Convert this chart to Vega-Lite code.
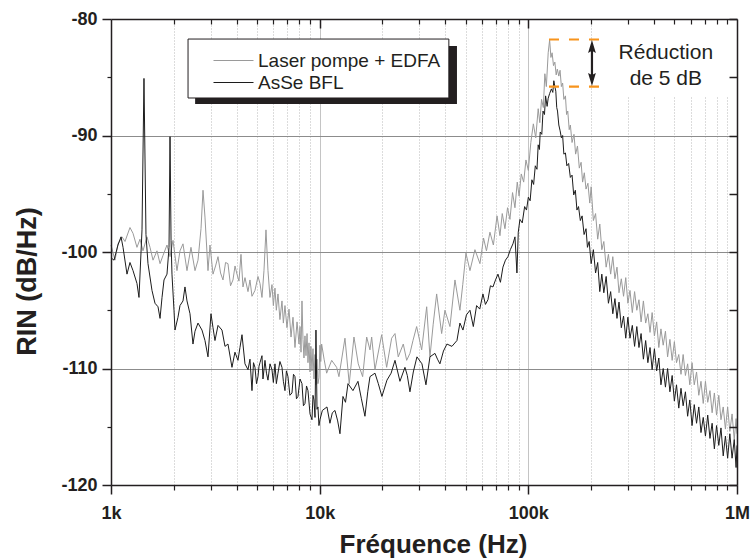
{
"$schema": "https://vega.github.io/schema/vega-lite/v6.json",
"width": 626,
"height": 466,
"autosize": {"type": "none"},
"padding": {"left": 111, "top": 19, "right": 15, "bottom": 73},
"background": "white",
"config": {"view": {"stroke": null}, "font": "Liberation Sans"},
"resolve": {"axis": {"x": "independent", "y": "independent"}},
"datasets": {
"laser": [
{"f":1000,"v":-99.4},{"f":1045,"v":-100.7},{"f":1080,"v":-99.3},{"f":1129,"v":-98.7},{"f":1167,"v":-99.1},{"f":1233,"v":-97.9},{"f":1275,"v":-98.4},{"f":1332,"v":-99.6},{"f":1377,"v":-98.9},{"f":1423,"v":-99.9},{"f":1487,"v":-98.7},{"f":1538,"v":-99.6},{"f":1590,"v":-100.7},{"f":1661,"v":-99.9},{"f":1718,"v":-101},{"f":1775,"v":-100.3},{"f":1855,"v":-99.4},{"f":1918,"v":-100.4},{"f":1982,"v":-99},{"f":2071,"v":-101.6},{"f":2141,"v":-99.9},{"f":2213,"v":-99.3},{"f":2313,"v":-101.6},{"f":2417,"v":-99.6},{"f":2527,"v":-101.6},{"f":2612,"v":-100.7},{"f":2700,"v":-98},{"f":2760,"v":-94.7},{"f":2821,"v":-97},{"f":2916,"v":-101.6},{"f":2981,"v":-99.4},{"f":3082,"v":-101.9},{"f":3170,"v":-101.2},{"f":3257,"v":-100.4},{"f":3350,"v":-101.8},{"f":3441,"v":-102.4},{"f":3540,"v":-100.9},{"f":3636,"v":-101},{"f":3740,"v":-102.9},{"f":3842,"v":-102.4},{"f":3930,"v":-101.2},{"f":4015,"v":-101.9},{"f":4105,"v":-102.5},{"f":4197,"v":-100.2},{"f":4290,"v":-103},{"f":4386,"v":-102.2},{"f":4534,"v":-103.4},{"f":4635,"v":-102.4},{"f":4738,"v":-103.8},{"f":4898,"v":-103.3},{"f":5063,"v":-102.1},{"f":5176,"v":-102.7},{"f":5291,"v":-103.9},{"f":5409,"v":-101.6},{"f":5530,"v":-98.1},{"f":5653,"v":-101.6},{"f":5780,"v":-103.9},{"f":5908,"v":-102.8},{"f":6000,"v":-104.6},{"f":6107,"v":-103.1},{"f":6200,"v":-105},{"f":6313,"v":-103.6},{"f":6450,"v":-105.8},{"f":6598,"v":-104.2},{"f":6700,"v":-106.1},{"f":6820,"v":-104.6},{"f":6970,"v":-106.5},{"f":7130,"v":-104.9},{"f":7290,"v":-107.3},{"f":7450,"v":-105.6},{"f":7615,"v":-108.2},{"f":7790,"v":-106},{"f":7960,"v":-107.9},{"f":8050,"v":-106.4},{"f":8140,"v":-108.6},{"f":8227,"v":-104.2},{"f":8320,"v":-107.5},{"f":8410,"v":-109.1},{"f":8504,"v":-107.2},{"f":8600,"v":-108.9},{"f":8700,"v":-107},{"f":8790,"v":-109.5},{"f":8890,"v":-107.8},{"f":8990,"v":-110.3},{"f":9080,"v":-108.1},{"f":9186,"v":-110.2},{"f":9290,"v":-108.3},{"f":9391,"v":-110.9},{"f":9500,"v":-108.8},{"f":9600,"v":-111.4},{"f":9710,"v":-109.2},{"f":9814,"v":-111.3},{"f":9920,"v":-110.8},{"f":10030,"v":-108},{"f":10120,"v":-109.4},{"f":10220,"v":-107.9},{"f":10500,"v":-109.2},{"f":10800,"v":-110.4},{"f":11420,"v":-109.3},{"f":12060,"v":-109.9},{"f":12370,"v":-110.7},{"f":13220,"v":-107.4},{"f":13860,"v":-111.3},{"f":14600,"v":-107.3},{"f":15310,"v":-109.6},{"f":16070,"v":-110.7},{"f":16800,"v":-107.3},{"f":17420,"v":-108.4},{"f":17750,"v":-107.3},{"f":18410,"v":-110.1},{"f":19820,"v":-107.1},{"f":20940,"v":-109.9},{"f":22130,"v":-107.4},{"f":22960,"v":-107},{"f":23800,"v":-109},{"f":25160,"v":-107.9},{"f":26120,"v":-109.3},{"f":27080,"v":-108.7},{"f":28000,"v":-107.6},{"f":29160,"v":-106.4},{"f":30820,"v":-108.4},{"f":32570,"v":-104.7},{"f":33770,"v":-109},{"f":35000,"v":-106.2},{"f":36360,"v":-103.6},{"f":38420,"v":-107},{"f":39840,"v":-105},{"f":42110,"v":-106.4},{"f":44500,"v":-102.4},{"f":47010,"v":-105},{"f":48500,"v":-102.8},{"f":50240,"v":-100.1},{"f":52510,"v":-101.6},{"f":55480,"v":-99.8},{"f":58630,"v":-101},{"f":61000,"v":-98.8},{"f":63000,"v":-99.9},{"f":65470,"v":-98.3},{"f":68000,"v":-99.4},{"f":70800,"v":-96.9},{"f":73110,"v":-98.6},{"f":75000,"v":-96.7},{"f":77250,"v":-98},{"f":79500,"v":-96.2},{"f":81640,"v":-97.2},{"f":84000,"v":-94.9},{"f":86270,"v":-96.2},{"f":88500,"v":-94},{"f":90300,"v":-95.2},{"f":92500,"v":-93.3},{"f":95000,"v":-94},{"f":97400,"v":-92.1},{"f":100000,"v":-93},{"f":102800,"v":-90.6},{"f":105700,"v":-89},{"f":108500,"v":-90.2},{"f":111500,"v":-87.7},{"f":113500,"v":-88.9},{"f":115700,"v":-86.9},{"f":118000,"v":-87.6},{"f":120000,"v":-84.7},{"f":122000,"v":-85.8},{"f":124500,"v":-82.9},{"f":126500,"v":-81.8},{"f":128300,"v":-83.3},{"f":130000,"v":-82.9},{"f":132000,"v":-84},{"f":134000,"v":-83.7},{"f":136000,"v":-84.8},{"f":137700,"v":-84.3},{"f":140000,"v":-84.9},{"f":141900,"v":-84.4},{"f":144000,"v":-85.8},{"f":146000,"v":-85.5},{"f":148000,"v":-86.9},{"f":150600,"v":-86.6},{"f":152500,"v":-88.2},{"f":154500,"v":-87.9},{"f":157000,"v":-89.5},{"f":159000,"v":-89.1},{"f":162000,"v":-90.6},{"f":165500,"v":-89.9},{"f":168500,"v":-91.6},{"f":172000,"v":-90.9},{"f":175500,"v":-92.8},{"f":179000,"v":-92.3},{"f":182000,"v":-94},{"f":185500,"v":-93.2},{"f":189000,"v":-94.6},{"f":193000,"v":-94.1},{"f":197000,"v":-95.8},
{"f":200000,"v":-94.4},{"f":205000,"v":-97.3},{"f":210000,"v":-96.7},{"f":215000,"v":-98.9},{"f":220000,"v":-97.6},{"f":225000,"v":-99.8},{"f":230000,"v":-99.1},{"f":236000,"v":-101.3},{"f":242000,"v":-100.2},{"f":248000,"v":-101.9},{"f":254000,"v":-100.4},{"f":260000,"v":-102.3},{"f":266000,"v":-101.3},{"f":272000,"v":-103.5},{"f":279000,"v":-102.3},{"f":286000,"v":-103.8},{"f":293000,"v":-102.2},{"f":300000,"v":-104.4},{"f":307000,"v":-103.3},{"f":315000,"v":-105.2},{"f":323000,"v":-103.4},{"f":331000,"v":-105},{"f":339000,"v":-104.1},{"f":347000,"v":-106},{"f":356000,"v":-104.2},{"f":365000,"v":-106.1},{"f":374000,"v":-105.3},{"f":383000,"v":-106.9},{"f":392000,"v":-105.2},{"f":402000,"v":-107.2},{"f":412000,"v":-106},{"f":422000,"v":-108.2},{"f":432000,"v":-106.6},{"f":443000,"v":-108},{"f":454000,"v":-106.8},{"f":465000,"v":-109},{"f":477000,"v":-107.5},{"f":489000,"v":-109.3},{"f":501000,"v":-107.7},{"f":513000,"v":-109.5},{"f":526000,"v":-108.8},{"f":539000,"v":-110.5},{"f":552000,"v":-108.8},{"f":566000,"v":-110.6},{"f":580000,"v":-109.6},{"f":594000,"v":-111.4},{"f":609000,"v":-109.5},{"f":624000,"v":-111.4},{"f":640000,"v":-110.3},{"f":656000,"v":-112.3},{"f":672000,"v":-111.1},{"f":689000,"v":-113},{"f":706000,"v":-111.1},{"f":724000,"v":-112.9},{"f":742000,"v":-111.9},{"f":760000,"v":-113.8},{"f":779000,"v":-112.1},{"f":798000,"v":-114},{"f":818000,"v":-112.3},{"f":838000,"v":-114.4},{"f":859000,"v":-113.3},{"f":880000,"v":-115.2},{"f":902000,"v":-113.3},{"f":924000,"v":-115.4},{"f":947000,"v":-113.9},{"f":970000,"v":-116.1},{"f":990000,"v":-114.3},{"f":1000000,"v":-115.6}
],
"asse": [
{"f":1000,"v":-100.5},{"f":1034,"v":-100.7},{"f":1080,"v":-99.4},{"f":1117,"v":-98.7},{"f":1142,"v":-99.6},{"f":1193,"v":-101.9},{"f":1233,"v":-100.9},{"f":1275,"v":-101.6},{"f":1332,"v":-102.7},{"f":1362,"v":-103.9},{"f":1408,"v":-98.1},{"f":1439,"v":-85.1},{"f":1471,"v":-98.5},{"f":1504,"v":-101},{"f":1572,"v":-103.3},{"f":1625,"v":-104.4},{"f":1680,"v":-104.7},{"f":1718,"v":-105.7},{"f":1756,"v":-103.9},{"f":1795,"v":-102.4},{"f":1855,"v":-101.9},{"f":1897,"v":-99.6},{"f":1918,"v":-90.1},{"f":1940,"v":-99},{"f":1960,"v":-101.9},{"f":2004,"v":-105},{"f":2026,"v":-106.7},{"f":2094,"v":-105.6},{"f":2141,"v":-104.6},{"f":2213,"v":-104.2},{"f":2262,"v":-103},{"f":2313,"v":-104.2},{"f":2391,"v":-105.3},{"f":2471,"v":-107.9},{"f":2527,"v":-106.8},{"f":2612,"v":-106.1},{"f":2729,"v":-106.7},{"f":2821,"v":-107.6},{"f":2916,"v":-109},{"f":3014,"v":-105.3},{"f":3082,"v":-106.5},{"f":3150,"v":-107.6},{"f":3257,"v":-106.3},{"f":3403,"v":-106.7},{"f":3518,"v":-108.1},{"f":3636,"v":-107.9},{"f":3800,"v":-109.9},{"f":3927,"v":-108.6},{"f":4059,"v":-109.3},{"f":4150,"v":-108.2},{"f":4244,"v":-107.1},{"f":4386,"v":-109.6},{"f":4534,"v":-110.1},{"f":4635,"v":-109.2},{"f":4738,"v":-111.9},{"f":4818,"v":-109.5},{"f":4898,"v":-109.9},{"f":4980,"v":-111.3},{"f":5063,"v":-110.7},{"f":5120,"v":-109.8},{"f":5176,"v":-109.5},{"f":5291,"v":-108.9},{"f":5350,"v":-110.9},{"f":5469,"v":-109.3},{"f":5560,"v":-110.4},{"f":5653,"v":-111},{"f":5780,"v":-109.6},{"f":5908,"v":-110.1},{"f":6000,"v":-111.2},{"f":6107,"v":-109.6},{"f":6200,"v":-111.3},{"f":6313,"v":-110.4},{"f":6450,"v":-109.4},{"f":6598,"v":-109.9},{"f":6700,"v":-111.1},{"f":6820,"v":-111.9},{"f":6930,"v":-110.2},{"f":7049,"v":-110.7},{"f":7200,"v":-112.3},{"f":7367,"v":-112.1},{"f":7490,"v":-110.5},{"f":7615,"v":-110.7},{"f":7740,"v":-112.6},{"f":7871,"v":-112.4},{"f":8050,"v":-110.9},{"f":8227,"v":-111.3},{"f":8360,"v":-113.2},{"f":8504,"v":-113},{"f":8650,"v":-111.5},{"f":8790,"v":-111.9},{"f":8990,"v":-113.9},{"f":9186,"v":-114.4},{"f":9290,"v":-112.3},{"f":9391,"v":-112.7},{"f":9500,"v":-114.2},{"f":9600,"v":-106.7},{"f":9710,"v":-113.5},{"f":9814,"v":-113.3},{"f":9920,"v":-114.9},{"f":10030,"v":-114.4},{"f":10300,"v":-113.6},{"f":10840,"v":-113.3},{"f":11200,"v":-114.7},{"f":11500,"v":-113.8},{"f":11840,"v":-113.6},{"f":12200,"v":-114.5},{"f":12510,"v":-115.6},{"f":12930,"v":-112.4},{"f":13300,"v":-112.9},{"f":13670,"v":-111.3},{"f":14440,"v":-111.9},{"f":15260,"v":-111.1},{"f":15850,"v":-112.6},{"f":16480,"v":-114.1},{"f":17000,"v":-112},{"f":17420,"v":-110.7},{"f":18410,"v":-110.4},{"f":19100,"v":-111.3},{"f":19880,"v":-112.4},{"f":21010,"v":-111},{"f":22000,"v":-110.4},{"f":22960,"v":-109.3},{"f":24250,"v":-111.1},{"f":25630,"v":-109.9},{"f":26300,"v":-110.6},{"f":27080,"v":-112},{"f":28100,"v":-110.3},{"f":29260,"v":-109},{"f":30920,"v":-109.6},{"f":32310,"v":-111.4},{"f":33770,"v":-109},{"f":35680,"v":-108.7},{"f":36700,"v":-109.2},{"f":37700,"v":-109.6},{"f":39200,"v":-108.5},{"f":40730,"v":-107.9},{"f":43040,"v":-108.1},{"f":45490,"v":-107.6},{"f":47000,"v":-106.1},{"f":48610,"v":-106.7},{"f":50500,"v":-105.4},{"f":52510,"v":-105},{"f":54500,"v":-106.4},{"f":56500,"v":-104.6},{"f":58500,"v":-104.9},{"f":60600,"v":-103.6},{"f":62300,"v":-104.5},{"f":64040,"v":-104.1},{"f":65800,"v":-102.9},{"f":67680,"v":-103},{"f":69600,"v":-102.4},{"f":71510,"v":-101.9},{"f":73500,"v":-102.6},{"f":75560,"v":-101.3},{"f":77700,"v":-100.7},{"f":79850,"v":-100.4},{"f":82000,"v":-99.8},{"f":84380,"v":-99.3},{"f":86300,"v":-98.7},{"f":88180,"v":-101.8},{"f":89500,"v":-98.3},{"f":91140,"v":-97.2},{"f":93500,"v":-97.5},{"f":96000,"v":-96.1},{"f":98000,"v":-96.4},
{"f":100000,"v":-95.3},{"f":102000,"v":-95.6},{"f":104000,"v":-93.8},{"f":106000,"v":-94.2},{"f":108000,"v":-92.6},{"f":110000,"v":-92.9},{"f":111500,"v":-90.8},{"f":113000,"v":-91.2},{"f":114000,"v":-89.7},{"f":116000,"v":-89.9},{"f":117600,"v":-87.9},{"f":119500,"v":-88.2},{"f":121000,"v":-86.6},{"f":123000,"v":-87.5},{"f":124500,"v":-86.8},{"f":126500,"v":-86.4},{"f":129000,"v":-86},{"f":131000,"v":-86.3},{"f":132500,"v":-85.3},{"f":134000,"v":-85.8},{"f":135400,"v":-86.2},{"f":136800,"v":-87.6},{"f":138000,"v":-87.9},{"f":140000,"v":-89.1},{"f":142000,"v":-89.6},{"f":144000,"v":-90.2},{"f":146000,"v":-90},{"f":148000,"v":-91.6},{"f":150600,"v":-91.5},{"f":153000,"v":-92.6},{"f":156000,"v":-92.4},{"f":159000,"v":-93.6},{"f":162000,"v":-93.4},{"f":165000,"v":-95.1},{"f":168000,"v":-94.7},{"f":171000,"v":-96.4},{"f":174000,"v":-96.1},{"f":177500,"v":-97.3},{"f":181000,"v":-96.9},{"f":185000,"v":-98.5},{"f":189000,"v":-98},{"f":192000,"v":-99.6},{"f":195700,"v":-99.1},
{"f":200000,"v":-101},{"f":205000,"v":-99.8},{"f":210000,"v":-101.8},{"f":215000,"v":-100.9},{"f":220000,"v":-103.4},{"f":225000,"v":-101.9},{"f":230000,"v":-103.5},{"f":236000,"v":-102.1},{"f":242000,"v":-104.4},{"f":248000,"v":-103.4},{"f":254000,"v":-105.3},{"f":260000,"v":-104},{"f":266000,"v":-105.7},{"f":272000,"v":-104.3},{"f":279000,"v":-106.5},{"f":286000,"v":-105.5},{"f":293000,"v":-107.4},{"f":300000,"v":-105.6},{"f":307000,"v":-107.4},{"f":315000,"v":-106.3},{"f":323000,"v":-108.1},{"f":331000,"v":-106.4},{"f":339000,"v":-108.2},{"f":347000,"v":-107},{"f":356000,"v":-109.2},{"f":365000,"v":-107.6},{"f":374000,"v":-109.5},{"f":383000,"v":-108.2},{"f":392000,"v":-110.1},{"f":402000,"v":-108.3},{"f":412000,"v":-110.2},{"f":422000,"v":-109.1},{"f":432000,"v":-111.4},{"f":443000,"v":-110},{"f":454000,"v":-111.6},{"f":465000,"v":-110},{"f":477000,"v":-112},{"f":489000,"v":-110.6},{"f":501000,"v":-112.8},{"f":513000,"v":-111.4},{"f":526000,"v":-113.4},{"f":539000,"v":-111.7},{"f":552000,"v":-113.2},{"f":566000,"v":-112},{"f":580000,"v":-114.1},{"f":594000,"v":-112.7},{"f":609000,"v":-114.9},{"f":624000,"v":-113.1},{"f":640000,"v":-114.7},{"f":656000,"v":-113.3},{"f":672000,"v":-115.5},{"f":689000,"v":-114.2},{"f":706000,"v":-115.8},{"f":724000,"v":-114},{"f":742000,"v":-116},{"f":760000,"v":-114.7},{"f":779000,"v":-116.9},{"f":798000,"v":-114.9},{"f":818000,"v":-116.6},{"f":838000,"v":-115.1},{"f":859000,"v":-117.5},{"f":880000,"v":-115.8},{"f":902000,"v":-117.7},{"f":924000,"v":-115.6},{"f":947000,"v":-117.7},{"f":970000,"v":-116.1},{"f":990000,"v":-118.5},{"f":1000000,"v":-116.6}
]
},
"layer": [
{
"data": {"values": [{"f1": 233000, "f2": 1000000, "v1": -80, "v2": -86.7}]},
"mark": {"type": "rect", "fill": "white", "strokeWidth": 0},
"encoding": {
"x": {"field": "f1", "type": "quantitative", "scale": {"type": "log", "domain": [1000, 1000000], "nice": false},
"axis": {"orient": "bottom", "values": [2000,3000,4000,5000,6000,7000,8000,9000,20000,30000,40000,50000,60000,70000,80000,90000,200000,300000,400000,500000,600000,700000,800000,900000], "labels": false, "ticks": true, "tickSize": 5, "tickWidth": 1.2, "tickColor": "#231f20", "domain": false, "grid": true, "gridColor": "#b8b8b8", "gridDash": [1, 2], "gridWidth": 1, "title": null, "zindex": 0}},
"x2": {"field": "f2"},
"y": {"field": "v1", "type": "quantitative", "scale": {"domain": [-120, -80], "nice": false, "zero": false},
"axis": {"orient": "left", "values": [-115, -105, -95, -85], "labels": false, "tickSize": 4, "tickWidth": 1.2, "tickColor": "#231f20", "domain": false, "grid": false, "title": null, "zindex": 1}},
"y2": {"field": "v2"}
}
},
{
"data": {"values": [{"f1": 2530, "f2": 45500, "v1": -82.32, "v2": -87.3}]},
"mark": {"type": "rect", "fill": "#231f20", "strokeWidth": 0},
"encoding": {
"x": {"field": "f1", "type": "quantitative", "scale": {"type": "log", "domain": [1000, 1000000], "nice": false},
"axis": {"orient": "top", "values": [2000,3000,4000,5000,6000,7000,8000,9000,20000,30000,40000,50000,60000,70000,80000,90000,200000,300000,400000,500000,600000,700000,800000,900000], "labels": false, "tickSize": -5, "tickWidth": 1.2, "tickColor": "#231f20", "domain": false, "grid": false, "title": null, "zindex": 1}},
"x2": {"field": "f2"},
"y": {"field": "v1", "type": "quantitative", "scale": {"domain": [-120, -80], "nice": false, "zero": false},
"axis": {"orient": "left", "values": [-110, -100, -90], "labels": false, "ticks": false, "domain": false, "grid": true, "gridColor": "#8c8c8c", "gridWidth": 1, "title": null, "zindex": 0}},
"y2": {"field": "v2"}
}
},
{
"data": {"values": [{"f1": 2340, "f2": 41600, "v1": -81.72, "v2": -86.78}]},
"mark": {"type": "rect", "fill": "white", "stroke": "#231f20", "strokeWidth": 1},
"encoding": {
"x": {"field": "f1", "type": "quantitative", "scale": {"type": "log", "domain": [1000, 1000000], "nice": false},
"axis": {"orient": "bottom", "values": [10000, 100000], "labels": false, "ticks": false, "domain": false, "grid": true, "gridColor": "#c4c4c4", "gridWidth": 1, "title": null, "zindex": 0}},
"x2": {"field": "f2"},
"y": {"field": "v1", "type": "quantitative", "scale": {"domain": [-120, -80], "nice": false, "zero": false}, "axis": null},
"y2": {"field": "v2"}
}
},
{
"data": {"name": "laser"},
"mark": {"type": "line", "strokeWidth": 1},
"encoding": {
"x": {"field": "f", "type": "quantitative", "scale": {"type": "log", "domain": [1000, 1000000], "nice": false},
"axis": {"orient": "bottom", "values": [1000, 10000, 100000, 1000000], "labelExpr": "datum.value >= 1000000 ? '1M' : datum.value >= 100000 ? '100k' : datum.value >= 10000 ? '10k' : '1k'", "labelFont": "Liberation Sans", "labelFontSize": 18, "labelFontWeight": "bold", "labelColor": "#231f20", "labelPadding": 10, "labelFlush": false, "labelOverlap": false, "tickSize": 9, "tickWidth": 1.5, "tickColor": "#231f20", "domain": true, "domainColor": "#231f20", "domainWidth": 1.5, "grid": false, "title": "Fréquence (Hz)", "titleFont": "Liberation Sans", "titleFontSize": 26, "titleFontWeight": "bold", "titleColor": "#231f20", "titleX": 322, "titleY": 67, "titleBaseline": "alphabetic", "titleAlign": "center", "zindex": 1}},
"y": {"field": "v", "type": "quantitative", "scale": {"domain": [-120, -80], "nice": false, "zero": false},
"axis": {"orient": "left", "values": [-120, -110, -100, -90, -80], "labelExpr": "'' + datum.value", "labelFont": "Liberation Sans", "labelFontSize": 18, "labelFontWeight": "bold", "labelColor": "#231f20", "labelPadding": 5, "labelFlush": false, "labelOverlap": false, "tickSize": 9, "tickWidth": 1.5, "tickColor": "#231f20", "domain": true, "domainColor": "#231f20", "domainWidth": 1.5, "grid": false, "title": "RIN (dB/Hz)", "titleFont": "Liberation Sans", "titleFontSize": 27, "titleFontWeight": "bold", "titleColor": "#231f20", "titleAngle": 270, "titleX": -76, "titleY": 262, "titleBaseline": "alphabetic", "titleAlign": "center", "zindex": 1}},
"color": {"datum": "Laser pompe + EDFA", "type": "nominal", "scale": {"domain": ["Laser pompe + EDFA", "AsSe BFL"], "range": ["#9a9a9a", "#1c1c1c"]},
"legend": {"orient": "none", "legendX": 98, "legendY": 32, "title": null, "symbolType": "M-1,0H7", "symbolSize": 100, "symbolStrokeWidth": 1.2, "labelFont": "Liberation Sans", "labelFontSize": 19, "labelColor": "#231f20", "labelOffset": 30, "rowPadding": 2, "padding": 0, "labelLimit": 300}}
}
},
{
"data": {"name": "asse"},
"mark": {"type": "line", "strokeWidth": 1},
"encoding": {
"x": {"field": "f", "type": "quantitative", "scale": {"type": "log", "domain": [1000, 1000000], "nice": false},
"axis": {"orient": "top", "values": [10000, 100000], "labels": false, "tickSize": -9, "tickWidth": 1.5, "tickColor": "#231f20", "domain": true, "domainColor": "#231f20", "domainWidth": 1.5, "grid": false, "title": null, "zindex": 1}},
"y": {"field": "v", "type": "quantitative", "scale": {"domain": [-120, -80], "nice": false, "zero": false},
"axis": {"orient": "right", "values": [-120, -115, -110, -105, -100, -95, -90, -85, -80], "labels": false, "tickSize": -8, "tickWidth": 1.5, "tickColor": "#231f20", "domain": true, "domainColor": "#231f20", "domainWidth": 1.5, "grid": false, "title": null, "zindex": 1}},
"color": {"datum": "AsSe BFL", "type": "nominal", "scale": {"domain": ["Laser pompe + EDFA", "AsSe BFL"], "range": ["#9a9a9a", "#1c1c1c"]},
"legend": {"orient": "none", "legendX": 98, "legendY": 32, "title": null, "symbolType": "M-1,0H7", "symbolSize": 100, "symbolStrokeWidth": 1.2, "labelFont": "Liberation Sans", "labelFontSize": 19, "labelColor": "#231f20", "labelOffset": 30, "rowPadding": 2, "padding": 0, "labelLimit": 300}}
}
},
{
"data": {"values": [{"f1": 125600, "f2": 220500, "v": -81.76}, {"f1": 125600, "f2": 220500, "v": -85.8}]},
"mark": {"type": "rule", "color": "#f7941d", "strokeWidth": 2.2, "strokeDash": [10, 10]},
"encoding": {
"x": {"field": "f1", "type": "quantitative", "scale": {"type": "log", "domain": [1000, 1000000], "nice": false}, "axis": null},
"x2": {"field": "f2"},
"y": {"field": "v", "type": "quantitative", "scale": {"domain": [-120, -80], "nice": false, "zero": false}, "axis": null}
}
},
{
"data": {"values": [{"f": 201800, "v1": -82.4, "v2": -85.2}]},
"mark": {"type": "rule", "color": "#231f20", "strokeWidth": 2.2},
"encoding": {
"x": {"field": "f", "type": "quantitative", "scale": {"type": "log", "domain": [1000, 1000000], "nice": false}, "axis": null},
"y": {"field": "v1", "type": "quantitative", "scale": {"domain": [-120, -80], "nice": false, "zero": false}, "axis": null},
"y2": {"field": "v2"}
}
},
{
"data": {"values": [{"f": 201800, "v": -82.55, "d": "up"}, {"f": 201800, "v": -85.0, "d": "down"}]},
"mark": {"type": "point", "filled": true, "size": 300, "color": "#231f20", "opacity": 1, "strokeWidth": 0},
"encoding": {
"x": {"field": "f", "type": "quantitative", "scale": {"type": "log", "domain": [1000, 1000000], "nice": false}, "axis": null},
"y": {"field": "v", "type": "quantitative", "scale": {"domain": [-120, -80], "nice": false, "zero": false}, "axis": null},
"shape": {"field": "d", "type": "nominal", "scale": {"domain": ["up", "down"], "range": ["M0,-1L0.45,0.5L0,0.25L-0.45,0.5Z", "M0,1L0.45,-0.5L0,-0.25L-0.45,-0.5Z"]}, "legend": null}
}
},
{
"data": {"values": [{"f": 456000, "v": -83.43, "t": "Réduction"}, {"f": 456000, "v": -85.67, "t": "de 5 dB"}]},
"mark": {"type": "text", "font": "Liberation Sans", "fontSize": 21, "align": "center", "baseline": "alphabetic", "color": "#231f20"},
"encoding": {
"x": {"field": "f", "type": "quantitative", "scale": {"type": "log", "domain": [1000, 1000000], "nice": false}, "axis": null},
"y": {"field": "v", "type": "quantitative", "scale": {"domain": [-120, -80], "nice": false, "zero": false}, "axis": null},
"text": {"field": "t"}
}
}
]
}
